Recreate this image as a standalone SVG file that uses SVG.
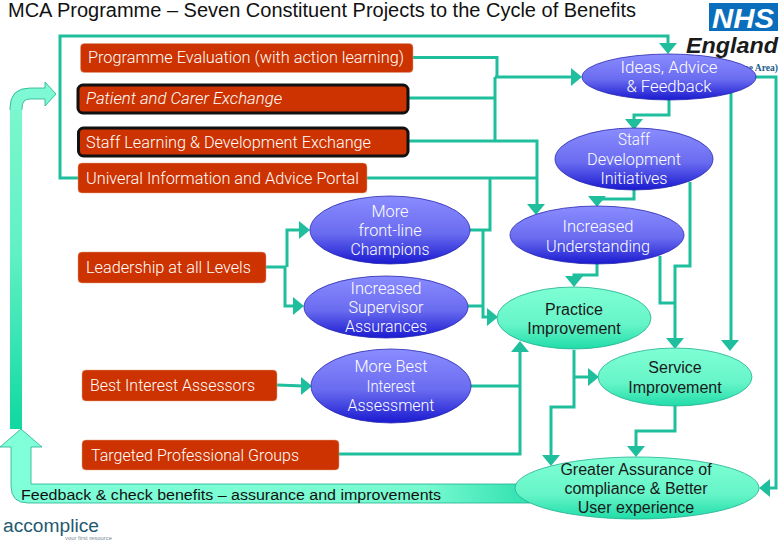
<svg xmlns="http://www.w3.org/2000/svg" width="780" height="540" viewBox="0 0 780 540">
<style>
text{font-family:"Liberation Sans",Arial,sans-serif}
.title{font-size:19.6px;fill:#111}
.box{fill:#cc3300;stroke:#e0a080;stroke-width:0.5}
.blk{fill:#cc3300;stroke:#111;stroke-width:3}
.bt{font-family:Roboto,"Liberation Sans",sans-serif;font-size:16px;fill:#fff;font-weight:300}
.blue{fill:url(#gb);stroke:#2a2ab0;stroke-width:0.8}
.green{fill:url(#gg);stroke:#22b090;stroke-width:0.8}
.wt{font-family:Roboto,"Liberation Sans",sans-serif;font-size:16px;fill:#fff;text-anchor:middle;font-weight:300}
.gt{font-family:"Liberation Sans",sans-serif;font-size:16px;fill:#1a1a1a;text-anchor:middle}
.c{fill:none;stroke:#1fbf9d;stroke-width:3}
.h{fill:#1fbf9d;stroke:none}
</style>
<defs>
<linearGradient id="gb" x1="0" y1="0" x2="0" y2="1"><stop offset="0" stop-color="#8a8cff"/><stop offset="0.55" stop-color="#6a6cf0"/><stop offset="1" stop-color="#1a1ad0"/></linearGradient>
<linearGradient id="gg" x1="0" y1="0" x2="0" y2="1"><stop offset="0" stop-color="#7fffd4"/><stop offset="0.6" stop-color="#66f5c8"/><stop offset="1" stop-color="#20dca8"/></linearGradient>
<linearGradient id="gu" x1="0" y1="0" x2="0" y2="1"><stop offset="0" stop-color="#80f8d0"/><stop offset="0.5" stop-color="#60f0c4"/><stop offset="1" stop-color="#10d8a0"/></linearGradient>
<linearGradient id="gl" x1="0" y1="0" x2="1" y2="0"><stop offset="0" stop-color="#80ffd8"/><stop offset="0.8" stop-color="#78fad0"/><stop offset="1" stop-color="#30e0b0"/></linearGradient>
</defs>
<rect width="780" height="540" fill="#fff"/>
<text class="title" x="8" y="17" textLength="628" lengthAdjust="spacingAndGlyphs">MCA Programme – Seven Constituent Projects to the Cycle of Benefits</text>

<g id="logo-nhs">
<text x="745" y="71" font-size="9.5" font-weight="bold" fill="#1a5a8a" style="font-family:'Liberation Serif',serif">se Area)</text>
<rect x="709" y="3" width="69" height="28" fill="#0a6ebd"/>
<text x="743" y="27.500" font-size="28" font-weight="bold" font-style="italic" fill="#fff" text-anchor="middle" textLength="62" lengthAdjust="spacingAndGlyphs">NHS</text>
<text x="686" y="53" font-size="22" font-weight="bold" font-style="italic" fill="#1a1a1a" textLength="92" lengthAdjust="spacingAndGlyphs">England</text>
</g>
<g id="logo-accomplice">
<text x="3" y="531.500" font-size="18" fill="#1f5a70" textLength="96" lengthAdjust="spacingAndGlyphs">accomplice</text>
<text x="65" y="539.500" font-size="5" fill="#7a8a95" textLength="47" lengthAdjust="spacingAndGlyphs">your first resource</text>
</g>

<g id="feedback-arrows">
<path d="M10 429V108Q10 88 30 88H45V82L56 94L45 106V99H30Q22 99 22 108V429Z" fill="url(#gu)" stroke="none"/>
<path d="M10 110V108Q10 88 30 88H45V82L56 94L45 106V99H30Q22 99 22 108V110" fill="#7ff8d4" stroke="#22b090" stroke-width="0.8"/>
<path d="M21 429L42 447H31V484H530V503H28Q11 503 11 486V447H0Z" fill="url(#gl)" stroke="#22b090" stroke-width="0.8"/>
<text x="21" y="500" font-size="15.5" fill="#111" textLength="420" lengthAdjust="spacingAndGlyphs">Feedback &amp; check benefits – assurance and improvements</text>
</g>

<g id="connectors">
<path class="c" d="M78 178H60V36H668V46"/>
<path class="c" d="M413 57.500H497V77"/>
<path class="c" d="M408 98H495"/>
<path class="c" d="M495 77V141"/>
<path class="c" d="M495 77H574"/>
<path class="c" d="M408 141H537V206"/>
<path class="c" d="M367 178H537"/>
<path class="c" d="M490 178V230H468"/>
<path class="c" d="M483 230V317H490"/>
<path class="c" d="M468 306H483"/>
<path class="c" d="M266 267H286"/>
<path class="c" d="M287 267V230H302"/>
<path class="c" d="M285 267V306H296"/>
<path class="c" d="M277 385L304 386"/>
<path class="c" d="M471 386H520"/>
<path class="c" d="M339 454H520V350"/>
<path class="c" d="M669 100V115H634V122"/>
<path class="c" d="M634 190V199H597V199"/>
<path class="c" d="M597 264V275H574V279"/>
<path class="c" d="M660 256V303H675"/>
<path class="c" d="M690 182V266H675V341"/>
<path class="c" d="M731 93V342"/>
<path class="c" d="M755 77H776V488H767"/>
<path class="c" d="M574 350V407H551V458"/>
<path class="c" d="M574 377H591"/>
<path class="c" d="M675 406V431H636V449"/>
<path class="h" d="M668 54L659 43H677Z"/>
<path class="h" d="M582 77L571 68V86Z"/>
<path class="h" d="M536 215L527 204H545Z"/>
<path class="h" d="M634 130L625 119H643Z"/>
<path class="h" d="M597 207L588 196H606Z"/>
<path class="h" d="M574 287L565 276H583Z"/>
<path class="h" d="M498 317L487 308V326Z"/>
<path class="h" d="M310 230L299 221V239Z"/>
<path class="h" d="M304 306L293 297V315Z"/>
<path class="h" d="M312 386L301 377V395Z"/>
<path class="h" d="M520 341L511 352H529Z"/>
<path class="h" d="M675 349L666 338H684Z"/>
<path class="h" d="M730 351L721 340H739Z"/>
<path class="h" d="M599 377L588 368V386Z"/>
<path class="h" d="M551 466L542 455H560Z"/>
<path class="h" d="M636 457L627 446H645Z"/>
<path class="h" d="M759 488L770 479V497Z"/>
</g>

<g id="programme-evaluation"><rect class="box" x="80.500" y="43.500" width="332.500" height="29" rx="4"/><text class="bt" x="88" y="63" textLength="316" lengthAdjust="spacingAndGlyphs">Programme Evaluation (with action learning)</text></g>
<g id="patient-carer"><rect class="blk" x="78" y="85" width="330" height="28" rx="5"/><text class="bt" x="86" y="104" font-style="italic" textLength="196" lengthAdjust="spacingAndGlyphs">Patient and Carer Exchange</text></g>
<g id="staff-learning"><rect class="blk" x="78.500" y="128" width="329.500" height="28" rx="5"/><text class="bt" x="86" y="148" textLength="285" lengthAdjust="spacingAndGlyphs">Staff Learning &amp; Development Exchange</text></g>
<g id="portal"><rect class="box" x="78" y="163" width="289" height="30" rx="4"/><text class="bt" x="86" y="184" textLength="273" lengthAdjust="spacingAndGlyphs">Univeral Information and Advice Portal</text></g>
<g id="leadership"><rect class="box" x="78" y="252" width="188" height="31" rx="4"/><text class="bt" x="86" y="273" textLength="165" lengthAdjust="spacingAndGlyphs">Leadership at all Levels</text></g>
<g id="best-interest-assessors"><rect class="box" x="82" y="370" width="195" height="31" rx="4"/><text class="bt" x="90" y="391" textLength="165" lengthAdjust="spacingAndGlyphs">Best Interest Assessors</text></g>
<g id="targeted-groups"><rect class="box" x="82" y="440" width="257" height="30" rx="4"/><text class="bt" x="91" y="461" textLength="208" lengthAdjust="spacingAndGlyphs">Targeted Professional Groups</text></g>

<g id="ideas"><ellipse class="blue" cx="669" cy="77" rx="87" ry="23"/><text class="wt" x="669" y="73" textLength="97" lengthAdjust="spacingAndGlyphs">Ideas, Advice</text><text class="wt" x="669" y="92" textLength="85" lengthAdjust="spacingAndGlyphs">&amp; Feedback</text></g>
<g id="staff-dev"><ellipse class="blue" cx="634" cy="159" rx="79" ry="31"/><text class="wt" x="634" y="145" textLength="32" lengthAdjust="spacingAndGlyphs">Staff</text><text class="wt" x="634" y="165" textLength="94" lengthAdjust="spacingAndGlyphs">Development</text><text class="wt" x="634" y="184" textLength="67" lengthAdjust="spacingAndGlyphs">Initiatives</text></g>
<g id="understanding"><ellipse class="blue" cx="597" cy="235" rx="87" ry="29"/><text class="wt" x="598" y="232" textLength="71" lengthAdjust="spacingAndGlyphs">Increased</text><text class="wt" x="598" y="252" textLength="104" lengthAdjust="spacingAndGlyphs">Understanding</text></g>
<g id="champions"><ellipse class="blue" cx="390" cy="230" rx="80" ry="34"/><text class="wt" x="390" y="217" textLength="37" lengthAdjust="spacingAndGlyphs">More</text><text class="wt" x="390" y="236" textLength="63" lengthAdjust="spacingAndGlyphs">front-line</text><text class="wt" x="390" y="255" textLength="79" lengthAdjust="spacingAndGlyphs">Champions</text></g>
<g id="supervisor"><ellipse class="blue" cx="386" cy="307" rx="82" ry="31"/><text class="wt" x="386" y="294" textLength="71" lengthAdjust="spacingAndGlyphs">Increased</text><text class="wt" x="386" y="313" textLength="75" lengthAdjust="spacingAndGlyphs">Supervisor</text><text class="wt" x="386" y="332" textLength="82" lengthAdjust="spacingAndGlyphs">Assurances</text></g>
<g id="more-best"><ellipse class="blue" cx="391" cy="386" rx="80" ry="37"/><text class="wt" x="391" y="372" textLength="73" lengthAdjust="spacingAndGlyphs">More Best</text><text class="wt" x="391" y="392" textLength="49" lengthAdjust="spacingAndGlyphs">Interest</text><text class="wt" x="391" y="411" textLength="87" lengthAdjust="spacingAndGlyphs">Assessment</text></g>
<g id="practice"><ellipse class="green" cx="574" cy="318" rx="77" ry="31"/><text class="gt" x="574" y="315">Practice</text><text class="gt" x="574" y="334">Improvement</text></g>
<g id="service"><ellipse class="green" cx="675" cy="377" rx="77" ry="29"/><text class="gt" x="675" y="373">Service</text><text class="gt" x="675" y="393">Improvement</text></g>
<g id="greater"><ellipse class="green" cx="637" cy="488" rx="122" ry="31"/><text class="gt" x="636" y="475">Greater Assurance of</text><text class="gt" x="636" y="494">compliance &amp; Better</text><text class="gt" x="636" y="513">User experience</text></g>
</svg>
